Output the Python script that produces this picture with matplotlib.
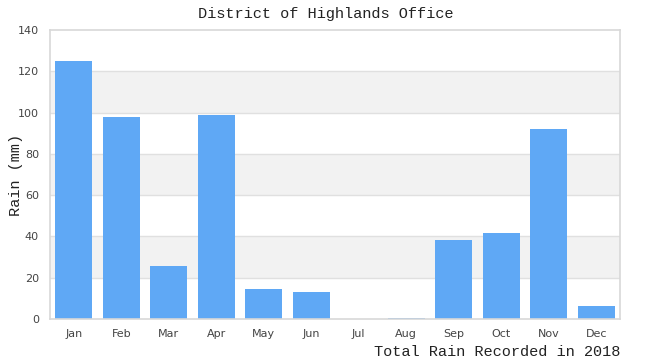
import matplotlib
matplotlib.use('Agg')
import matplotlib.pyplot as plt

months = ['Jan', 'Feb', 'Mar', 'Apr', 'May', 'Jun', 'Jul', 'Aug', 'Sep', 'Oct', 'Nov', 'Dec']
rain = [125, 98, 25.7, 99, 14.5, 13.1, 0, 0.5, 38.3, 41.7, 92, 6.3]
yticks = [0, 20, 40, 60, 80, 100, 120, 140]

fig = plt.figure(figsize=(6.5, 3.6), dpi=100)
ax = fig.add_axes([50/650, 1 - 319/360, 570/650, 289/360])

# alternating bands
for lo in (20, 60, 100):
    ax.axhspan(lo, lo + 20, color='#f2f2f2', zorder=0, lw=0)
for t in yticks[1:-1]:
    ax.axhline(t, color='#e0e0e0', lw=1, zorder=1)

x = list(range(len(months)))
ax.bar(x, rain, width=0.78, color='#5fa8f5', zorder=2)

ax.set_xlim(-0.5, 11.5)
ax.set_ylim(0, 140)
ax.set_xticks(x)
ax.set_xticklabels(months)
ax.set_yticks(yticks)
ax.tick_params(axis='both', length=0, colors='#444444', labelsize=8)
ax.tick_params(axis='x', pad=7)
ax.tick_params(axis='y', pad=8)
for s in ax.spines.values():
    s.set_color('#d8d8d8')
    s.set_linewidth(1.2)

mono = ['Liberation Mono', 'DejaVu Sans Mono']
fig.text(326/650, 1 - 14/360, 'District of Highlands Office', family=mono,
         fontsize=11, color='#222222', ha='center', va='center')
fig.text(16/650, 1 - 175/360, 'Rain (mm)', family=mono, fontsize=11,
         color='#222222', ha='center', va='center', rotation=90)
fig.text(620/650, 1 - 352/360, 'Total Rain Recorded in 2018', family=mono,
         fontsize=11, color='#222222', ha='right', va='center')

fig.savefig('out.png', dpi=100)
